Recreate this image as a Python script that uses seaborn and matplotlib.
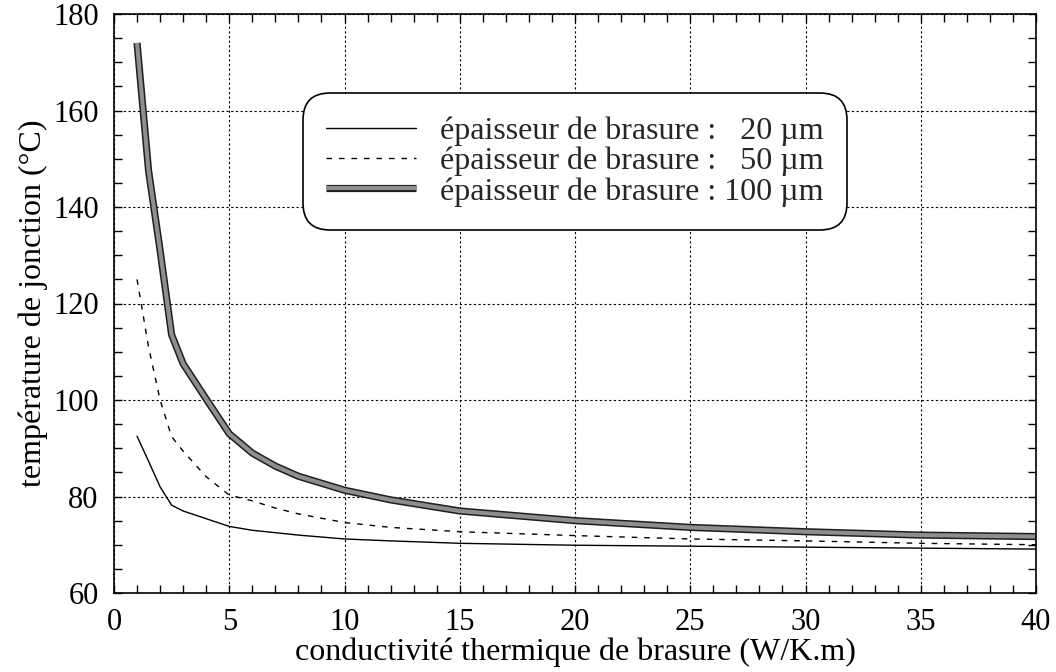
import matplotlib
matplotlib.use("Agg")
import numpy as np
import pandas as pd
import seaborn as sns
import matplotlib.pyplot as plt
import matplotlib.patheffects as pe
from matplotlib.lines import Line2D
from matplotlib.ticker import MultipleLocator

# Thermal conductivity of the solder layer (W/K.m)
k = [1, 1.5, 2, 2.5, 3, 4, 5, 6, 7, 8, 10, 12, 15, 20, 25, 30, 35, 40]

# Junction temperature (°C) for each solder thickness
t20 = [92.5, 87.3, 82.0, 78.2, 77.0, 75.4, 73.8, 73.0, 72.5, 72.0, 71.2, 70.8,
       70.3, 69.9, 69.7, 69.5, 69.3, 69.1]
t50 = [125.0, 111.0, 100.0, 92.4, 89.4, 84.1, 80.3, 79.1, 77.6, 76.4, 74.6, 73.6,
       72.7, 71.9, 71.2, 70.8, 70.3, 70.0]
t100 = [174.0, 147.5, 131.0, 113.5, 107.5, 100.2, 93.0, 89.0, 86.3, 84.2, 81.3, 79.3,
        77.0, 75.0, 73.6, 72.7, 72.0, 71.7]

labels = ["épaisseur de brasure :   20 µm",
          "épaisseur de brasure :   50 µm",
          "épaisseur de brasure : 100 µm"]

x_ticks = [0, 5, 10, 15, 20, 25, 30, 35, 40]
y_ticks = [60, 80, 100, 120, 140, 160, 180]

sns.set_theme(style="ticks")
plt.rcParams["font.family"] = ["Liberation Serif", "DejaVu Serif"]
plt.rcParams["axes.unicode_minus"] = False

FS_TICK = 22
FS_LABEL = 23
FS_LEG = 23

fig = plt.figure(figsize=(10.56, 6.72), dpi=100)
ax = fig.add_axes([114 / 1056, 79 / 672, 922 / 1056, 579 / 672])

thick_fx = [pe.Stroke(linewidth=5.2, foreground="#1e1e1e"),
            pe.Stroke(linewidth=3.0, foreground="#8e8e8e")]
dash = (0, (4, 5))

sns.lineplot(x=k, y=t20, ax=ax, color="black", linewidth=1.0, estimator=None)
sns.lineplot(x=k, y=t50, ax=ax, color="black", linewidth=1.0, linestyle=dash,
             estimator=None)
sns.lineplot(x=k, y=t100, ax=ax, color="#8e8e8e", linewidth=5.2,
             solid_capstyle="butt", solid_joinstyle="round", estimator=None)
ax.lines[-1].set_path_effects(thick_fx)

ax.set_xlim(0, 40)
ax.set_ylim(60, 180)
ax.set_xticks(x_ticks)
ax.set_yticks(y_ticks)
ax.xaxis.set_minor_locator(MultipleLocator(1))
ax.yaxis.set_minor_locator(MultipleLocator(5))
ax.set_xticklabels([str(v) for v in x_ticks], fontsize=FS_TICK)
ax.set_yticklabels([str(v) for v in y_ticks], fontsize=FS_TICK)

ax.grid(True, which="major", color="black", linestyle=(0, (2, 2.2)), linewidth=0.8)
ax.tick_params(which="both", direction="in", top=True, right=True,
               length=6, width=1.0, color="black", labelcolor="black")
ax.tick_params(axis="x", which="major", pad=11)
ax.tick_params(axis="y", which="major", pad=11)
for s in ax.spines.values():
    s.set_color("black")
    s.set_linewidth(1.2)

ax.set_xlabel("conductivité thermique de brasure (W/K.m)", fontsize=FS_LABEL,
              color="black", labelpad=0)
ax.set_ylabel("température de jonction (°C)", fontsize=FS_LABEL, color="black",
              labelpad=4)

handles = [
    Line2D([], [], color="black", linewidth=1.0),
    Line2D([], [], color="black", linewidth=1.0, linestyle=dash),
    Line2D([], [], color="#8e8e8e", linewidth=5.2, solid_capstyle="butt",
           path_effects=thick_fx),
]
leg = ax.legend(handles, labels, loc="center", bbox_to_anchor=(0.5, 0.745),
                fontsize=FS_LEG, frameon=True, fancybox=True, framealpha=1,
                edgecolor="black", facecolor="white", handlelength=2.8,
                handletextpad=0.75, labelspacing=0.02, borderpad=0.75)
frame = leg.get_frame()
frame.set_linewidth(1.2)
frame.set_boxstyle("round", pad=0, rounding_size=0.85)

fig.savefig("out.png", dpi=100, facecolor="white")
